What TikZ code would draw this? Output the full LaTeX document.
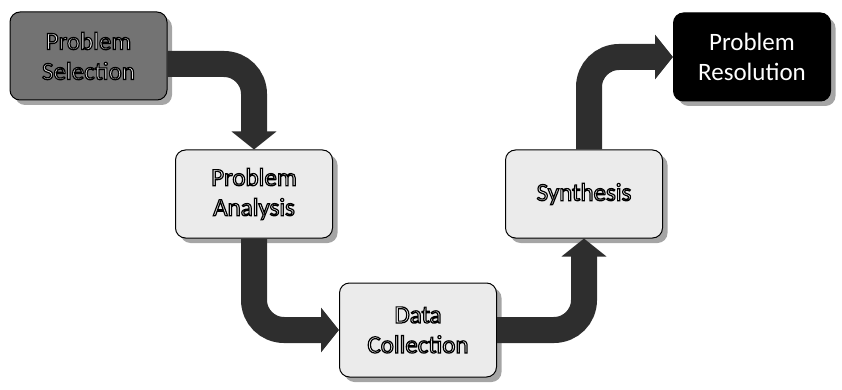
\documentclass[tikz,border=0pt]{standalone}
\usepackage{fontspec}
\setmainfont{Carlito}
\usetikzlibrary{positioning,shadows,arrows.meta}
\newcommand{\glow}[1]{\special{pdf:literal direct 2 Tr 1.2 w 0 0 0 RG}#1\special{pdf:literal direct 0 Tr}}
\tikzset{
	stage/.style={draw=black, line width=1pt, rounded corners=10pt, minimum width=157pt, minimum height=88pt, align=center, text=white, font=\fontsize{25}{30}\selectfont, drop shadow={shadow xshift=5pt, shadow yshift=-5pt, fill=black!70}},
	flow/.style={line width=26pt, draw=black!82, rounded corners=30pt, -{Triangle[width=44pt,length=18pt]}}
}

\begin{document}
\begin{tikzpicture}[x=1pt,y=-1pt]
					\useasboundingbox (0,0) rectangle (842,390);

					\node[stage, fill=black!55] (sel) at (88.5,56) {\glow{Problem}\\\glow{Selection}};
					\node[stage, fill=black!8] (ana) at (254,194) {\glow{Problem}\\\glow{Analysis}};
					\node[stage, fill=black!8, minimum height=94pt] (dat) at (418,330) {\glow{Data}\\\glow{Collection}};
					\node[stage, fill=black!8] (syn) at (584,194) {\glow{Synthesis}};
					\node[stage, fill=black] (res) at (752,57) {Problem\\Resolution};

					\draw[flow] ([yshift=-8pt]sel.east) -| (ana.north);
					\draw[flow] (ana.south) |- (dat.west);
					\draw[flow] (dat.east) -| (syn.south);
					\draw[flow] ([xshift=5pt]syn.north) |- (res.west);
				\end{tikzpicture}
\end{document}
